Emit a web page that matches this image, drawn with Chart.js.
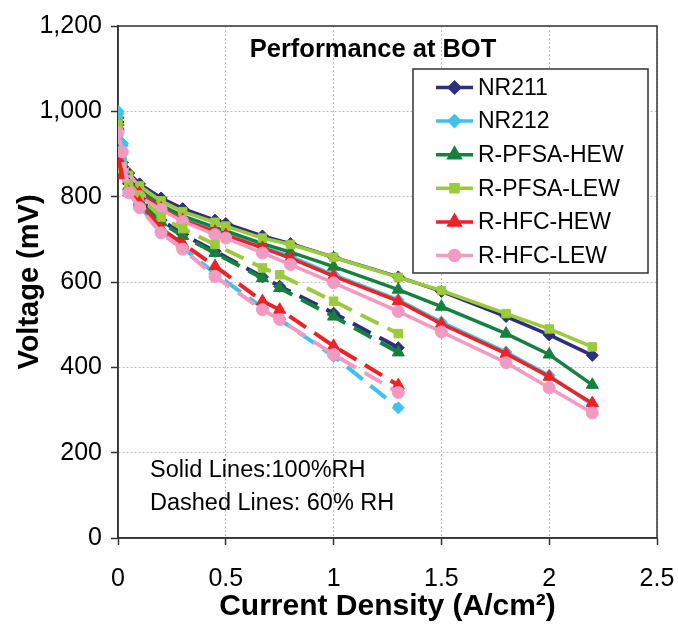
<!DOCTYPE html>
<html><head><meta charset="utf-8">
<script src="https://cdn.jsdelivr.net/npm/chart.js@4/dist/chart.umd.min.js"></script>
<style>html,body{margin:0;padding:0;background:#fff;}#wrap{width:678px;height:626px;}</style>
</head><body><div id="wrap"><canvas id="c" width="678" height="626"></canvas></div>
<script>
// ---- data ----
const seriesNames = ['NR211', 'NR212', 'R-PFSA-HEW', 'R-PFSA-LEW', 'R-HFC-HEW', 'R-HFC-LEW'];
const xSolid  = [0, 0.02, 0.05, 0.1, 0.2, 0.3, 0.45, 0.5, 0.67, 0.8, 1.0, 1.3, 1.5, 1.8, 2.0, 2.2];
const xDashed = [0, 0.02, 0.05, 0.1, 0.2, 0.3, 0.45, 0.67, 0.75, 1.0, 1.3];

// 100% RH (solid)
const nr211Solid    = [985, 880, 855, 830, 797, 772, 745, 737, 708, 690, 658, 612, 578, 519, 476, 428];
const nr212Solid    = [1000, 925, 840, 810, 775, 748, 720, 712, 683, 660, 617, 558, 506, 436, 381, 312];
const pfsaHewSolid  = [975, 870, 845, 815, 780, 755, 728, 720, 690, 670, 636, 582, 542, 479, 430, 359];
const pfsaLewSolid  = [980, 875, 850, 825, 790, 765, 740, 731, 703, 688, 658, 611, 580, 526, 490, 448];
const hfcHewSolid   = [895, 860, 838, 808, 772, 745, 718, 710, 680, 656, 614, 555, 502, 432, 378, 316];
const hfcLewSolid   = [955, 865, 836, 800, 770, 742, 711, 703, 668, 641, 598, 531, 483, 411, 352, 293];

// 60% RH (dashed)
const nr211Dashed   = [975, 870, 830, 795, 745, 712, 672, 612, 590, 527, 446];
const nr212Dashed   = [995, 920, 815, 778, 720, 680, 620, 540, 512, 426, 305];
const pfsaHewDashed = [965, 860, 825, 790, 740, 708, 668, 609, 586, 519, 435];
const pfsaLewDashed = [970, 865, 830, 800, 752, 725, 688, 633, 617, 555, 479];
const hfcHewDashed  = [890, 850, 810, 786, 725, 690, 637, 555, 535, 450, 358];
const hfcLewDashed  = [950, 905, 809, 774, 715, 677, 613, 535, 512, 430, 341];

const yTicks = [0, 200, 400, 600, 800, 1000, 1200];
const xTicks = [0, 0.5, 1, 1.5, 2, 2.5];

// ---- styles ----
const colors = ['#2B2F7E', '#3EC3EF', '#16803F', '#9BCB3B', '#EC2227', '#F39AC3'];
const shapes = ['rectRot', 'rectRot', 'triangle', 'rect', 'triangle', 'circle'];
const radii  = [6, 6, 7, 6, 7, 6];
const solidData  = [nr211Solid, nr212Solid, pfsaHewSolid, pfsaLewSolid, hfcHewSolid, hfcLewSolid];
const dashedData = [nr211Dashed, nr212Dashed, pfsaHewDashed, pfsaLewDashed, hfcHewDashed, hfcLewDashed];

const toPts = (xs, ys) => xs.map((x, i) => ({x: x, y: ys[i]}));
const datasets = [];
seriesNames.forEach((name, i) => {
  const base = {
    borderColor: colors[i], backgroundColor: colors[i],
    pointBackgroundColor: colors[i], pointBorderColor: colors[i],
    pointStyle: shapes[i], pointRadius: radii[i], pointBorderWidth: 1,
    tension: 0, fill: false
  };
  datasets.push(Object.assign({}, base, {label: name, data: toPts(xSolid, solidData[i]), borderWidth: 3.5, order: 12 - i}));
  datasets.push(Object.assign({}, base, {label: name + ' (60% RH)', data: toPts(xDashed, dashedData[i]), borderWidth: 4, borderDash: [20, 10], order: 6 - i + 0.5}));
});

const FONT = '"Liberation Sans", Arial, sans-serif';

const decor = {
  id: 'decor',
  beforeDatasetsDraw(chart) {
    const {ctx, chartArea: a} = chart;
    ctx.save();
    ctx.strokeStyle = '#333';
    ctx.lineWidth = 1.5;
    ctx.strokeRect(a.left, a.top, a.right - a.left, a.bottom - a.top);
    ctx.restore();
  },
  afterDraw(chart) {
    const {ctx} = chart;
    ctx.save();
    ctx.fillStyle = '#000';
    ctx.textBaseline = 'middle';
    ctx.textAlign = 'center';
    ctx.font = 'bold 25.5px ' + FONT;
    ctx.fillText('Performance at BOT', 373, 50);
    ctx.textAlign = 'left';
    ctx.font = '23.5px ' + FONT;
    ctx.fillText('Solid Lines:100%RH', 150, 471);
    ctx.fillText('Dashed Lines: 60% RH', 150, 504);
    // legend
    const L = 413, T = 69, R = 648, B = 273;
    ctx.fillStyle = '#fff';
    ctx.fillRect(L, T, R - L, B - T);
    ctx.strokeStyle = '#333';
    ctx.lineWidth = 1.5;
    ctx.strokeRect(L, T, R - L, B - T);
    ctx.font = '23px ' + FONT;
    seriesNames.forEach((name, i) => {
      const y = 87.5 + i * 33.6;
      ctx.strokeStyle = colors[i];
      ctx.lineWidth = 3.5;
      ctx.setLineDash([]);
      ctx.beginPath(); ctx.moveTo(436, y); ctx.lineTo(473, y); ctx.stroke();
      Chart.helpers.drawPoint(ctx, {pointStyle: shapes[i], radius: radii[i] - 1, borderWidth: 1}, 454.5, y);
      ctx.fillStyle = colors[i];
      ctx.fill();
      ctx.fillStyle = '#000';
      ctx.fillText(name, 478, y + 1);
    });
    ctx.restore();
  }
};

new Chart(document.getElementById('c'), {
  type: 'line',
  data: {datasets},
  plugins: [decor],
  options: {
    responsive: false, animation: false, devicePixelRatio: 1,
    layout: {padding: {top: 26, right: 21, left: 0, bottom: 0}},
    plugins: {legend: {display: false}, title: {display: false}, tooltip: {enabled: false}},
    scales: {
      x: {
        type: 'linear', min: 0, max: 2.5,
        afterBuildTicks: s => { s.ticks = xTicks.map(v => ({value: v})); },
        afterFit: s => { s.height = 88; s.paddingLeft = 0; s.paddingRight = 0; },
        grid: {color: '#bdbdbd', lineWidth: 1, tickLength: 7, tickColor: '#333', tickWidth: 1.5, tickBorderDash: []},
        border: {display: true, color: '#333', width: 1.5, dash: [2, 2]},
        ticks: {color: '#000', font: {family: FONT, size: 25}, padding: 19, maxRotation: 0,
                callback: v => String(v)},
        title: {display: true, text: 'Current Density (A/cm²)', color: '#000',
                font: {family: FONT, size: 30, weight: 'bold'}, padding: {top: 0, bottom: 1}}
      },
      y: {
        type: 'linear', min: 0, max: 1200,
        afterBuildTicks: s => { s.ticks = yTicks.map(v => ({value: v})); },
        afterFit: s => { s.width = 118; s.paddingTop = 0; s.paddingBottom = 0; },
        grid: {color: '#bdbdbd', lineWidth: 1, tickLength: 7, tickColor: '#333', tickWidth: 1.5, tickBorderDash: []},
        border: {display: true, color: '#333', width: 1.5, dash: [2, 2]},
        ticks: {color: '#000', font: {family: FONT, size: 25}, padding: 9,
                callback: v => v.toLocaleString('en-US')},
        title: {display: true, text: 'Voltage (mV)', color: '#000',
                font: {family: FONT, size: 29, weight: 'bold'}, padding: {top: 13, bottom: 0}}
      }
    }
  }
});
</script></body></html>
